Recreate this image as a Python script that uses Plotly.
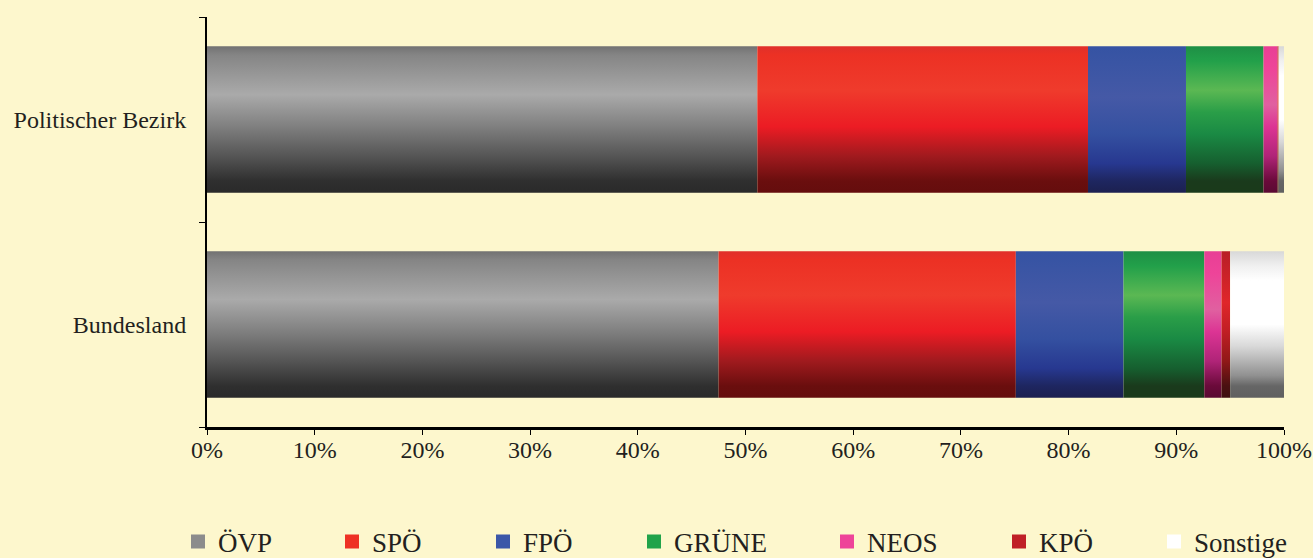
import plotly.graph_objects as go

# ---------------- data ----------------
categories = ["Bundesland", "Politischer Bezirk"]
parties = ["ÖVP", "SPÖ", "FPÖ", "GRÜNE", "NEOS", "KPÖ", "Sonstige"]
share_bundesland = [47.5, 27.6, 10.0, 7.5, 1.6, 0.8, 5.0]
share_bezirk = [51.1, 30.7, 9.1, 7.2, 1.3, 0.1, 0.5]
x_ticks = [0, 10, 20, 30, 40, 50, 60, 70, 80, 90, 100]
x_tick_labels = [f"{v}%" for v in x_ticks]

# ---------------- styles ----------------
legend_colors = ["#8c8c8c", "#ee3124", "#3b57a8", "#21a34a", "#ee4499", "#c02026", "#ffffff"]
# gradients listed top -> bottom
gradients_top_to_bottom = [
    [(0, "#727272"), (0.06, "#858585"), (0.33, "#aaaaaa"), (0.55, "#7f7f7f"), (0.75, "#555555"), (0.92, "#2f2f2f"), (1, "#2a2a2a")],
    [(0, "#e0302a"), (0.06, "#ec3124"), (0.3, "#ef3b2c"), (0.55, "#ec1c24"), (0.75, "#a01a1e"), (0.92, "#6a0e0e"), (1, "#650d0d")],
    [(0, "#3553a3"), (0.35, "#4559a6"), (0.6, "#3450a0"), (0.8, "#273890"), (0.92, "#1e2660"), (1, "#1c2050")],
    [(0, "#1e8f45"), (0.1, "#22a04a"), (0.3, "#5bb853"), (0.45, "#2a9e48"), (0.6, "#1a8a44"), (0.8, "#165f2f"), (0.92, "#1a3a1c"), (1, "#1a3a1a")],
    [(0, "#e83f95"), (0.15, "#ee4499"), (0.4, "#e060a0"), (0.55, "#dc3494"), (0.75, "#b02478"), (0.92, "#6a0a3a"), (1, "#5a0a32")],
    [(0, "#b81e26"), (0.35, "#e0262a"), (0.55, "#c01e24"), (0.75, "#901818"), (0.92, "#4a1010"), (1, "#401010")],
    [(0, "#d8d8d8"), (0.1, "#f0f0f0"), (0.2, "#ffffff"), (0.5, "#ffffff"), (0.65, "#d8d8d8"), (0.85, "#909090"), (0.92, "#666666"), (1, "#606060")],
]
bg = "#FDF7CD"
font_family = "Liberation Serif, Times New Roman, serif"
half_h = 0.357

W, H = 1313, 558
L, R, T, B = 207, 29, 17, 131

fig = go.Figure()

# invisible trace to establish the category axis
fig.add_trace(go.Scatter(x=[0, 0], y=categories, mode="markers",
                         marker=dict(opacity=0), showlegend=False, hoverinfo="skip"))

series = {"Bundesland": share_bundesland, "Politischer Bezirk": share_bezirk}
for ci, cat in enumerate(categories):
    vals = series[cat]
    base = 0.0
    for pi, party in enumerate(parties):
        v = vals[pi]
        x0, x1 = base, base + v
        y0, y1 = ci - half_h, ci + half_h
        cs = [[1 - p, c] for p, c in gradients_top_to_bottom[pi]][::-1]
        fig.add_trace(go.Scatter(
            x=[x0, x1, x1, x0, x0], y=[y0, y0, y1, y1, y0],
            mode="lines", fill="toself", line=dict(width=0),
            fillgradient=dict(type="vertical", colorscale=cs, start=y0, stop=y1),
            yaxis="y2", showlegend=False, name=party,
            hoveron="fills", hoverinfo="text", text=f"{cat}: {party} {v:.1f}%",
        ))
        base = x1

# legend entries, one legend each so they can be spaced like the original
text_starts = [218, 372, 523, 674, 867, 1039, 1194]
for pi, party in enumerate(parties):
    lg = "legend" if pi == 0 else f"legend{pi + 1}"
    fig.add_trace(go.Scatter(
        x=[None], y=[None], mode="markers", yaxis="y2",
        marker=dict(symbol="square", size=14, color=legend_colors[pi], line=dict(width=0)),
        name=party, legend=lg, showlegend=True,
    ))

legend_layouts = {}
for pi, party in enumerate(parties):
    key = "legend" if pi == 0 else f"legend{pi + 1}"
    legend_layouts[key] = dict(
        xref="container", yref="container",
        x=(text_starts[pi] - 40) / W, xanchor="left",
        y=(H - 542) / H, yanchor="middle", orientation="h",
        bgcolor="rgba(0,0,0,0)", font=dict(family=font_family, size=27, color="#231f20"),
        itemclick=False, itemdoubleclick=False,
    )

fig.update_layout(
    width=W, height=H,
    margin=dict(l=L, r=R, t=T, b=B, autoexpand=False),
    paper_bgcolor=bg, plot_bgcolor=bg,
    font=dict(family=font_family, size=24, color="#231f20"),
    xaxis=dict(range=[0, 100], tickmode="array", tickvals=x_ticks, ticktext=x_tick_labels,
               showgrid=False, zeroline=False,
               showline=True, linecolor="black", linewidth=2.5, ticks="outside", ticklen=5,
               tickwidth=1, tickcolor="black", ticklabelstandoff=-6, fixedrange=True),
    yaxis=dict(type="category", categoryorder="array", categoryarray=categories,
               range=[-0.5, 1.5], tickson="boundaries", showgrid=False, zeroline=False,
               showline=True, linecolor="black", linewidth=2, ticks="outside", ticklen=6,
               tickwidth=1, tickcolor="black", ticklabelstandoff=14, fixedrange=True),
    yaxis2=dict(range=[-0.5, 1.5], overlaying="y", visible=False, fixedrange=True),
    **legend_layouts,
)

fig.write_html(
    "out.html",
    config={"displayModeBar": False},
    post_script="document.body.style.margin='0';document.body.style.background='#FDF7CD';",
)
